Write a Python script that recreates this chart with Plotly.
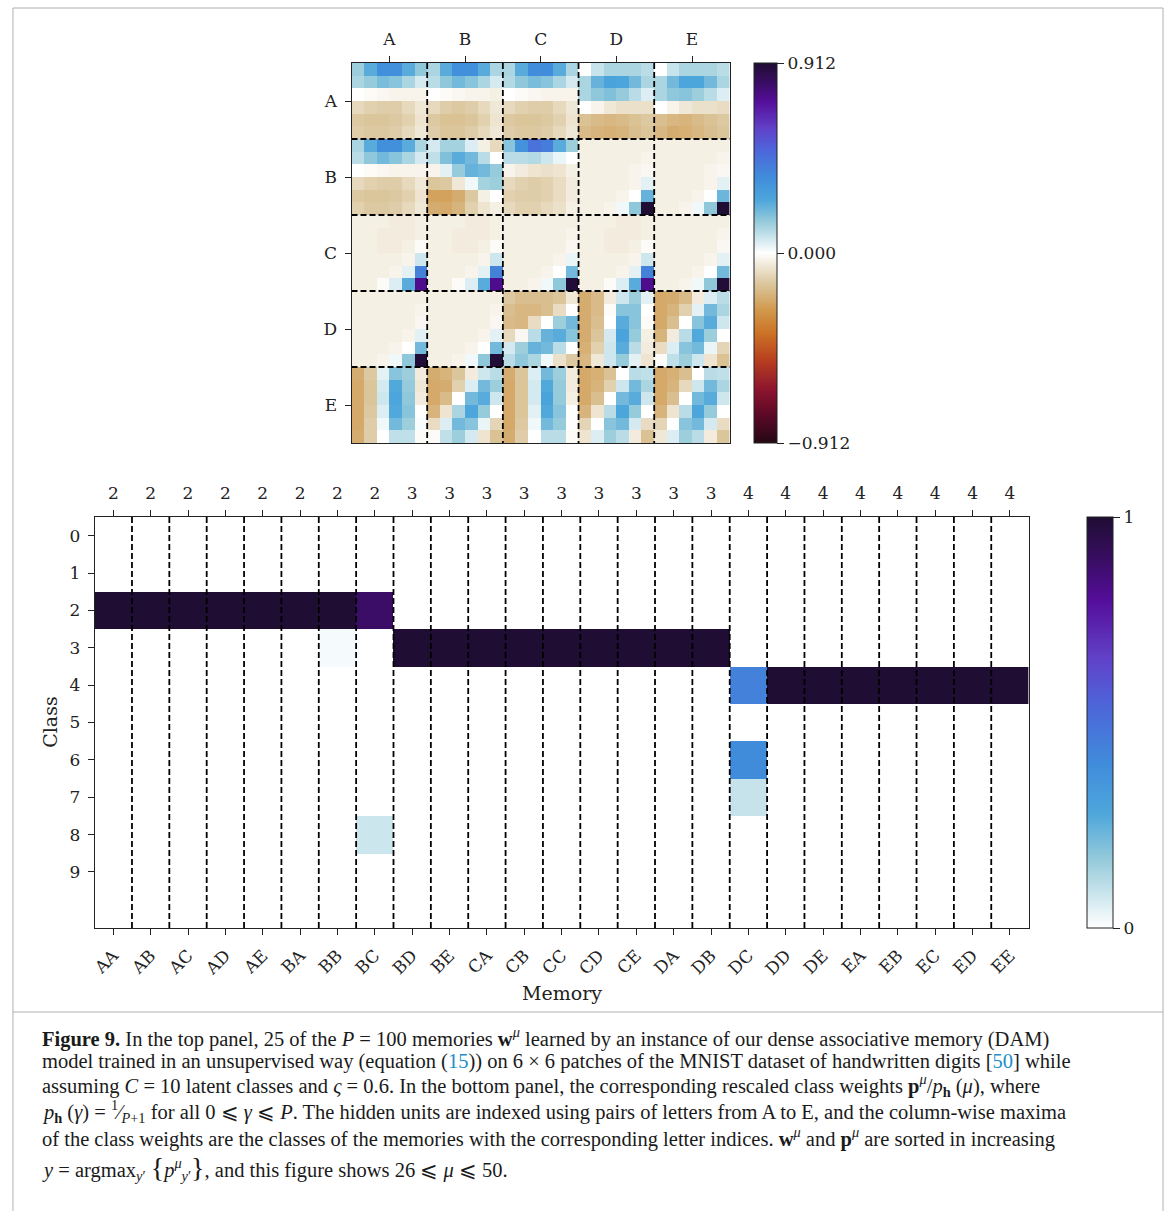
import numpy as np
import plotly.graph_objects as go

# ---------------- data: top panel (25 memories, 6x6 each) ----------------
w_AA = [[0.14, 0.24, 0.35, 0.35, 0.24, 0.16],
        [0.12, 0.15, 0.19, 0.17, 0.12, 0.06],
        [0.00, -0.01, -0.02, -0.03, -0.03, -0.03],
        [-0.10, -0.12, -0.13, -0.13, -0.10, -0.06],
        [-0.14, -0.15, -0.15, -0.14, -0.12, -0.07],
        [-0.13, -0.14, -0.14, -0.13, -0.10, -0.06]]
w_AB = [[0.12, 0.24, 0.35, 0.35, 0.24, 0.12],
        [0.10, 0.16, 0.20, 0.17, 0.12, 0.06],
        [0.00, -0.01, -0.02, -0.03, -0.03, -0.04],
        [-0.10, -0.13, -0.14, -0.13, -0.10, -0.06],
        [-0.14, -0.16, -0.16, -0.15, -0.12, -0.07],
        [-0.13, -0.15, -0.15, -0.13, -0.10, -0.06]]
w_AC = [[0.12, 0.24, 0.36, 0.36, 0.24, 0.12],
        [0.11, 0.16, 0.19, 0.17, 0.12, 0.06],
        [0.00, -0.01, -0.02, -0.03, -0.03, -0.03],
        [-0.10, -0.12, -0.13, -0.13, -0.10, -0.06],
        [-0.14, -0.15, -0.15, -0.14, -0.12, -0.07],
        [-0.13, -0.14, -0.14, -0.13, -0.10, -0.06]]
w_AD = [[0.00, 0.08, 0.12, 0.12, 0.12, 0.10],
        [0.12, 0.22, 0.27, 0.26, 0.20, 0.12],
        [0.12, 0.16, 0.18, 0.15, 0.10, 0.05],
        [0.00, -0.03, -0.06, -0.08, -0.08, -0.08],
        [-0.16, -0.18, -0.19, -0.18, -0.16, -0.14],
        [-0.18, -0.20, -0.21, -0.20, -0.17, -0.15]]
w_AE = [[0.00, 0.08, 0.12, 0.12, 0.12, 0.10],
        [0.12, 0.20, 0.26, 0.26, 0.20, 0.12],
        [0.12, 0.16, 0.17, 0.14, 0.10, 0.05],
        [0.00, -0.03, -0.06, -0.08, -0.08, -0.09],
        [-0.17, -0.19, -0.20, -0.18, -0.16, -0.14],
        [-0.19, -0.22, -0.21, -0.19, -0.17, -0.15]]
w_BA = [[0.12, 0.24, 0.35, 0.35, 0.24, 0.12],
        [0.10, 0.16, 0.20, 0.17, 0.12, 0.06],
        [0.00, -0.01, -0.02, -0.03, -0.03, -0.03],
        [-0.10, -0.12, -0.13, -0.13, -0.10, -0.06],
        [-0.14, -0.15, -0.15, -0.14, -0.12, -0.07],
        [-0.12, -0.14, -0.14, -0.13, -0.10, -0.06]]
w_BB = [[0.06, 0.13, 0.13, 0.05, -0.04, -0.10],
        [0.09, 0.18, 0.24, 0.20, 0.10, 0.00],
        [-0.03, 0.04, 0.15, 0.22, 0.20, 0.15],
        [-0.15, -0.14, -0.06, 0.02, 0.13, 0.14],
        [-0.25, -0.25, -0.22, -0.14, -0.04, 0.00],
        [-0.22, -0.23, -0.20, -0.12, -0.07, -0.04]]
w_BC = [[0.17, 0.34, 0.45, 0.42, 0.24, 0.14],
        [0.10, 0.10, 0.11, 0.07, 0.03, 0.00],
        [-0.03, -0.05, -0.07, -0.08, -0.07, -0.04],
        [-0.10, -0.12, -0.13, -0.12, -0.09, -0.05],
        [-0.12, -0.13, -0.13, -0.12, -0.09, -0.05],
        [-0.10, -0.12, -0.12, -0.10, -0.08, -0.04]]
w_BD = [[-0.04, -0.04, -0.04, -0.04, -0.04, -0.04],
        [-0.04, -0.04, -0.04, -0.04, -0.04, -0.03],
        [-0.04, -0.04, -0.04, -0.04, -0.03, -0.02],
        [-0.04, -0.04, -0.04, -0.04, -0.03, 0.04],
        [-0.04, -0.04, -0.04, -0.03, 0.00, 0.22],
        [-0.04, -0.04, -0.03, 0.02, 0.16, 0.91]]
w_BE = [[-0.04, -0.04, -0.04, -0.04, -0.04, -0.04],
        [-0.04, -0.04, -0.04, -0.04, -0.04, -0.03],
        [-0.04, -0.04, -0.04, -0.04, -0.03, -0.02],
        [-0.04, -0.04, -0.04, -0.04, -0.03, 0.04],
        [-0.04, -0.04, -0.04, -0.03, 0.00, 0.21],
        [-0.04, -0.04, -0.03, 0.02, 0.16, 0.91]]
w_CA = [[-0.04, -0.04, -0.04, -0.05, -0.05, -0.04],
        [-0.04, -0.04, -0.05, -0.05, -0.05, -0.04],
        [-0.04, -0.04, -0.05, -0.05, -0.04, -0.01],
        [-0.04, -0.04, -0.04, -0.04, -0.03, 0.07],
        [-0.04, -0.04, -0.04, -0.03, 0.04, 0.40],
        [-0.04, -0.04, -0.01, 0.05, 0.24, 0.75]]
w_CB = [[-0.04, -0.04, -0.04, -0.05, -0.05, -0.04],
        [-0.04, -0.04, -0.05, -0.05, -0.05, -0.04],
        [-0.04, -0.04, -0.05, -0.05, -0.04, -0.01],
        [-0.04, -0.04, -0.04, -0.04, -0.03, 0.07],
        [-0.04, -0.04, -0.04, -0.03, 0.04, 0.40],
        [-0.04, -0.04, -0.01, 0.05, 0.24, 0.75]]
w_CC = [[-0.04, -0.04, -0.04, -0.04, -0.04, -0.04],
        [-0.04, -0.04, -0.04, -0.04, -0.04, -0.03],
        [-0.04, -0.04, -0.04, -0.04, -0.04, -0.02],
        [-0.04, -0.04, -0.04, -0.04, -0.03, 0.03],
        [-0.04, -0.04, -0.04, -0.03, 0.00, 0.20],
        [-0.04, -0.04, -0.03, 0.02, 0.16, 0.90]]
w_CD = [[-0.04, -0.04, -0.04, -0.05, -0.05, -0.04],
        [-0.04, -0.04, -0.05, -0.05, -0.05, -0.04],
        [-0.04, -0.04, -0.05, -0.05, -0.04, -0.01],
        [-0.04, -0.04, -0.04, -0.04, -0.03, 0.07],
        [-0.04, -0.04, -0.04, -0.03, 0.04, 0.40],
        [-0.04, -0.04, -0.01, 0.05, 0.24, 0.75]]
w_CE = [[-0.04, -0.04, -0.04, -0.04, -0.04, -0.04],
        [-0.04, -0.04, -0.04, -0.04, -0.04, -0.03],
        [-0.04, -0.04, -0.04, -0.04, -0.04, -0.02],
        [-0.04, -0.04, -0.04, -0.04, -0.03, 0.04],
        [-0.04, -0.04, -0.04, -0.03, 0.00, 0.20],
        [-0.04, -0.04, -0.03, 0.02, 0.16, 0.90]]
w_DA = [[-0.04, -0.04, -0.04, -0.04, -0.04, -0.04],
        [-0.04, -0.04, -0.04, -0.04, -0.04, -0.03],
        [-0.04, -0.04, -0.04, -0.04, -0.04, -0.02],
        [-0.04, -0.04, -0.04, -0.04, -0.03, 0.04],
        [-0.04, -0.04, -0.04, -0.03, 0.00, 0.20],
        [-0.04, -0.04, -0.03, 0.02, 0.16, 0.90]]
w_DB = [[-0.04, -0.04, -0.04, -0.04, -0.04, -0.04],
        [-0.04, -0.04, -0.04, -0.04, -0.04, -0.03],
        [-0.04, -0.04, -0.04, -0.04, -0.04, -0.02],
        [-0.04, -0.04, -0.04, -0.04, -0.03, 0.04],
        [-0.04, -0.04, -0.04, -0.03, 0.00, 0.20],
        [-0.04, -0.04, -0.03, 0.02, 0.16, 0.90]]
w_DC = [[-0.14, -0.17, -0.17, -0.17, -0.15, -0.06],
        [-0.17, -0.19, -0.19, -0.17, -0.09, 0.00],
        [-0.18, -0.19, -0.09, 0.00, 0.14, 0.20],
        [-0.10, -0.02, 0.10, 0.22, 0.24, 0.17],
        [0.06, 0.14, 0.22, 0.20, 0.10, 0.00],
        [0.10, 0.16, 0.12, 0.02, -0.08, -0.14]]
w_DD = [[-0.22, -0.18, -0.05, 0.07, 0.14, 0.04],
        [-0.22, -0.18, -0.01, 0.17, 0.17, 0.00],
        [-0.22, -0.17, 0.00, 0.24, 0.17, -0.01],
        [-0.22, -0.15, 0.06, 0.27, 0.15, -0.04],
        [-0.21, -0.12, 0.07, 0.24, 0.10, -0.05],
        [-0.19, -0.06, 0.07, 0.15, 0.04, -0.07]]
w_DE = [[-0.23, -0.22, -0.18, -0.05, 0.05, 0.10],
        [-0.23, -0.20, -0.12, 0.04, 0.20, 0.12],
        [-0.23, -0.17, 0.00, 0.17, 0.24, 0.07],
        [-0.20, -0.05, 0.10, 0.25, 0.14, 0.00],
        [-0.09, 0.05, 0.17, 0.20, 0.03, -0.11],
        [-0.01, 0.09, 0.14, 0.07, -0.07, -0.16]]
w_EA = [[-0.22, -0.14, 0.04, 0.17, 0.14, -0.05],
        [-0.23, -0.15, 0.06, 0.25, 0.15, -0.06],
        [-0.23, -0.15, 0.07, 0.26, 0.16, -0.05],
        [-0.23, -0.14, 0.05, 0.25, 0.17, 0.00],
        [-0.23, -0.13, 0.02, 0.20, 0.14, 0.01],
        [-0.22, -0.13, 0.00, 0.09, 0.09, -0.01]]
w_EB = [[-0.22, -0.20, -0.15, -0.05, 0.07, 0.10],
        [-0.23, -0.22, -0.12, 0.05, 0.20, 0.14],
        [-0.23, -0.18, 0.00, 0.20, 0.24, 0.07],
        [-0.20, -0.07, 0.12, 0.26, 0.15, 0.00],
        [-0.09, 0.05, 0.20, 0.17, 0.03, -0.11],
        [-0.01, 0.09, 0.14, 0.06, -0.07, -0.16]]
w_EC = [[-0.22, -0.15, 0.05, 0.20, 0.14, -0.05],
        [-0.23, -0.15, 0.06, 0.25, 0.15, -0.05],
        [-0.23, -0.15, 0.06, 0.27, 0.15, -0.04],
        [-0.23, -0.15, 0.04, 0.25, 0.17, 0.00],
        [-0.23, -0.14, 0.02, 0.20, 0.15, 0.00],
        [-0.22, -0.13, 0.00, 0.10, 0.10, -0.01]]
w_ED = [[-0.23, -0.21, -0.16, 0.00, 0.10, 0.09],
        [-0.23, -0.20, -0.12, 0.07, 0.20, 0.12],
        [-0.23, -0.17, 0.00, 0.20, 0.24, 0.07],
        [-0.20, -0.07, 0.10, 0.26, 0.15, 0.00],
        [-0.11, 0.00, 0.17, 0.20, 0.06, -0.09],
        [-0.07, 0.05, 0.14, 0.10, -0.05, -0.16]]
w_EE = [[-0.23, -0.21, -0.17, 0.00, 0.10, 0.09],
        [-0.23, -0.20, -0.10, 0.07, 0.20, 0.12],
        [-0.23, -0.17, 0.00, 0.20, 0.24, 0.07],
        [-0.20, -0.07, 0.10, 0.26, 0.15, 0.00],
        [-0.11, 0.00, 0.17, 0.20, 0.06, -0.09],
        [-0.06, 0.05, 0.14, 0.10, -0.05, -0.15]]

letters = ["A", "B", "C", "D", "E"]
top_zlim = 0.912

# ---------------- data: bottom panel ----------------
memories = ["AA", "AB", "AC", "AD", "AE", "BA", "BB", "BC", "BD", "BE", "CA", "CB", "CC",
            "CD", "CE", "DA", "DB", "DC", "DD", "DE", "EA", "EB", "EC", "ED", "EE"]
memory_class = ["2", "2", "2", "2", "2", "2", "2", "2", "3", "3", "3", "3", "3",
                "3", "3", "3", "3", "4", "4", "4", "4", "4", "4", "4", "4"]
classes = ["0", "1", "2", "3", "4", "5", "6", "7", "8", "9"]
class_weights = [
    [0, 0, 0, 0, 0, 0, 0, 0, 0, 0, 0, 0, 0, 0, 0, 0, 0, 0, 0, 0, 0, 0, 0, 0, 0],
    [0, 0, 0, 0, 0, 0, 0, 0, 0, 0, 0, 0, 0, 0, 0, 0, 0, 0, 0, 0, 0, 0, 0, 0, 0],
    [1, 1, 1, 1, 1, 1, 1, 0.89, 0, 0, 0, 0, 0, 0, 0, 0, 0, 0, 0, 0, 0, 0, 0, 0, 0],
    [0, 0, 0, 0, 0, 0, 0.015, 0, 1, 1, 1, 1, 1, 1, 1, 1, 1, 0, 0, 0, 0, 0, 0, 0, 0],
    [0, 0, 0, 0, 0, 0, 0, 0, 0, 0, 0, 0, 0, 0, 0, 0, 0, 0.44, 1, 1, 1, 1, 1, 1, 1],
    [0, 0, 0, 0, 0, 0, 0, 0, 0, 0, 0, 0, 0, 0, 0, 0, 0, 0, 0, 0, 0, 0, 0, 0, 0],
    [0, 0, 0, 0, 0, 0, 0, 0, 0, 0, 0, 0, 0, 0, 0, 0, 0, 0.40, 0, 0, 0, 0, 0, 0, 0],
    [0, 0, 0, 0, 0, 0, 0, 0, 0, 0, 0, 0, 0, 0, 0, 0, 0, 0.09, 0, 0, 0, 0, 0, 0, 0],
    [0, 0, 0, 0, 0, 0, 0, 0.08, 0, 0, 0, 0, 0, 0, 0, 0, 0, 0, 0, 0, 0, 0, 0, 0, 0],
    [0, 0, 0, 0, 0, 0, 0, 0, 0, 0, 0, 0, 0, 0, 0, 0, 0, 0, 0, 0, 0, 0, 0, 0, 0],
]

# ---------------- styling ----------------
W, H = 1170, 1211
def px(x):
    return x / W
def py(y):
    return 1 - y / H

full_scale = [
    [0.00, "#240814"], [0.07, "#590826"], [0.14, "#8c142e"], [0.22, "#b8401f"],
    [0.29, "#cc7326"], [0.35, "#d1994d"], [0.42, "#dbc79e"], [0.50, "#ffffff"],
    [0.58, "#99ccdb"], [0.64, "#4da6db"], [0.70, "#408cdb"], [0.77, "#4d66d9"],
    [0.83, "#6140c7"], [0.90, "#540d99"], [0.95, "#380d61"], [1.00, "#1f0d33"],
]
half_scale = [[(p - 0.5) * 2, c] for p, c in full_scale if p >= 0.5]

TICKFONT = dict(family="DejaVu Serif", size=17, color="#222")
CAPFONT = dict(family="Liberation Serif", size=20.5, color="#1a1a1a")

blocks = {}
for name, arr in list(globals().items()):
    if name.startswith("w_") and len(name) == 4:
        blocks[name[2:]] = np.array(arr, dtype=float)
z_top = np.block([[blocks[r + c] for c in letters] for r in letters])
n_top = z_top.shape[0]

fig = go.Figure()

fig.add_trace(go.Heatmap(
    z=z_top, x=list(range(n_top)), y=list(range(n_top)),
    xaxis="x", yaxis="y", colorscale=full_scale, zmin=-top_zlim, zmax=top_zlim,
    xgap=0, ygap=0, hoverinfo="skip",
    colorbar=dict(x=px(752), xanchor="left", y=py(253), yanchor="middle",
                  len=380 / H, lenmode="fraction", thickness=23, thicknessmode="pixels",
                  xpad=0, ypad=0, outlinewidth=1, outlinecolor="#222",
                  tickvals=[-top_zlim, 0, top_zlim], ticktext=["\u22120.912", "0.000", "0.912"],
                  ticks="outside", ticklen=7, tickcolor="#222", tickfont=TICKFONT),
))

fig.add_trace(go.Heatmap(
    z=class_weights, x=list(range(len(memories))), y=list(range(len(classes))),
    xaxis="x3", yaxis="y3", colorscale=half_scale, zmin=0, zmax=1, hoverinfo="skip",
    colorbar=dict(x=px(1087), xanchor="left", y=py(722.5), yanchor="middle",
                  len=411 / H, lenmode="fraction", thickness=26, thicknessmode="pixels",
                  xpad=0, ypad=0, outlinewidth=1, outlinecolor="#222",
                  tickvals=[0, 1], ticktext=["0", "1"],
                  ticks="outside", ticklen=7, tickcolor="#222", tickfont=TICKFONT),
))
# invisible trace to carry the top class-label axis
fig.add_trace(go.Scatter(x=[0], y=[0], xaxis="x4", yaxis="y3", mode="markers",
                         marker=dict(opacity=0), showlegend=False, hoverinfo="skip"))

ax_common = dict(showline=True, linecolor="#222", linewidth=1, mirror=True,
                 ticks="outside", ticklen=6, tickcolor="#222", tickfont=TICKFONT,
                 ticklabelstandoff=4, showgrid=False, zeroline=False)

fig.update_layout(
    width=W, height=H, margin=dict(l=0, r=0, t=0, b=0),
    paper_bgcolor="white", plot_bgcolor="white", showlegend=False,
    xaxis=dict(domain=[px(348), px(728)], range=[-0.5, n_top - 0.5], side="top",
               tickvals=[2.5 + 6 * i for i in range(5)], ticktext=letters, anchor="y", **ax_common),
    yaxis=dict(domain=[py(443), py(63)], range=[n_top - 0.5, -0.5],
               tickvals=[2.5 + 6 * i for i in range(5)], ticktext=letters, anchor="x", **ax_common),
    xaxis3=dict(domain=[px(90), px(1028)], range=[-0.5, len(memories) - 0.5], side="bottom",
                tickvals=list(range(len(memories))), ticktext=memories, tickangle=-45,
                anchor="y3", **ax_common),
    xaxis4=dict(overlaying="x3", matches="x3", side="top", range=[-0.5, len(memories) - 0.5],
                tickvals=list(range(len(memories))), ticktext=memory_class, anchor="y3",
                ticks="outside", ticklen=6, tickcolor="#222", tickfont=TICKFONT,
                ticklabelstandoff=4, showgrid=False, zeroline=False, showline=False),
    yaxis3=dict(domain=[py(928), py(517)], range=[10.5, -0.5],
                tickvals=list(range(len(classes))), ticktext=classes, anchor="x3", **ax_common),
)

shapes = []
dash = "6px,3px"
for i in range(1, 5):
    b = 6 * i - 0.5
    shapes.append(dict(type="line", xref="x", yref="y", x0=b, x1=b, y0=-0.5, y1=n_top - 0.5,
                       line=dict(color="black", width=1.8, dash=dash), layer="above"))
    shapes.append(dict(type="line", xref="x", yref="y", y0=b, y1=b, x0=-0.5, x1=n_top - 0.5,
                       line=dict(color="black", width=1.8, dash=dash), layer="above"))
for i in range(1, len(memories)):
    b = i - 0.5
    shapes.append(dict(type="line", xref="x3", yref="y3", x0=b, x1=b, y0=-0.5, y1=10.5,
                       line=dict(color="black", width=1.8, dash=dash), layer="above"))
# page frame
shapes.append(dict(type="rect", xref="paper", yref="paper", x0=px(8), x1=px(1163),
                   y0=py(1215), y1=py(8), line=dict(color="#b0b0b0", width=1)))
shapes.append(dict(type="line", xref="paper", yref="paper", x0=px(8), x1=px(1163),
                   y0=py(1012), y1=py(1012), line=dict(color="#b0b0b0", width=1)))
fig.update_layout(shapes=shapes)

ann = [
    dict(text="Class", x=px(45), y=py(722), xref="paper", yref="paper", textangle=-90,
         xanchor="center", yanchor="middle",
         showarrow=False, font=dict(family="DejaVu Serif", size=19, color="#222")),
    dict(text="Memory", x=px(559), y=py(993), xref="paper", yref="paper",
         xanchor="center", yanchor="middle",
         showarrow=False, font=dict(family="DejaVu Serif", size=19, color="#222")),
]
blue = "#1a8fc9"
caption = [
    (1037, "<b>Figure 9.</b> In the top panel, 25 of the <i>P</i> = 100 memories <b>w</b><sup><i>μ</i></sup> learned by an instance of our dense associative memory (DAM)"),
    (1061, "model trained in an unsupervised way (equation (<span style='color:%s'>15</span>)) on 6 × 6 patches of the MNIST dataset of handwritten digits [<span style='color:%s'>50</span>] while" % (blue, blue)),
    (1085, "assuming <i>C</i> = 10 latent classes and <i>ς</i> = 0.6. In the bottom panel, the corresponding rescaled class weights <b>p</b><sup><i>μ</i></sup>/<i>p</i><sub><b>h</b></sub> (<i>μ</i>), where"),
    (1111, "<i>p</i><sub><b>h</b></sub> (<i>γ</i>) = <sup>1</sup>⁄<sub><i>P</i>+1</sub> for all 0 ⩽ <i>γ</i> ⩽ <i>P</i>. The hidden units are indexed using pairs of letters from A to E, and the column-wise maxima"),
    (1137, "of the class weights are the classes of the memories with the corresponding letter indices. <b>w</b><sup><i>μ</i></sup> and <b>p</b><sup><i>μ</i></sup> are sorted in increasing"),
    (1168, "<i>y</i> = argmax<sub><i>y</i>′</sub> <span style='font-size:28px'>{</span><i>p</i><sup><i>μ</i></sup><sub><i>y</i>′</sub><span style='font-size:28px'>}</span>, and this figure shows 26 ⩽ <i>μ</i> ⩽ 50."),
]
for yy, t in caption:
    ann.append(dict(text=t, x=px(35), y=py(yy), xref="paper", yref="paper", xanchor="left",
                    yanchor="middle", showarrow=False, align="left", font=CAPFONT))
fig.update_layout(annotations=ann)

fig.write_html("out.html")
